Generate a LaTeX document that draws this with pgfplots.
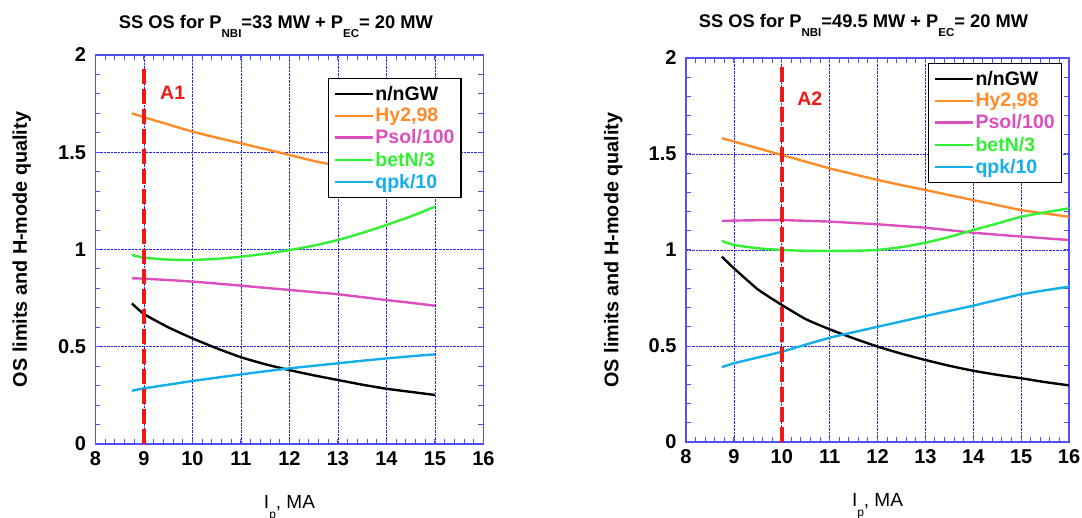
\documentclass[border=0pt]{standalone}
\usepackage{pgfplots}
\pgfplotsset{compat=1.18}
\usepackage{fontspec}
\setmainfont{Liberation Sans}
\definecolor{axblue}{RGB}{80,80,245}
\definecolor{gridblue}{RGB}{40,40,230}
\definecolor{corange}{RGB}{255,140,40}
\definecolor{cmagenta}{RGB}{220,80,190}
\definecolor{cgreen}{RGB}{50,240,50}
\definecolor{ccyan}{RGB}{20,175,235}
\definecolor{cred}{RGB}{240,25,25}
\pgfplotsset{
  myax/.style={
    scale only axis,
    clip mode=individual,
    xmin=8, xmax=16, ymin=0, ymax=2,
    xtick={8,...,16}, ytick={0,0.5,1,1.5,2},
    minor x tick num=4, minor y tick num=4,
    tick align=inside,
    xtick pos=both, ytick pos=both,
    axis line style={axblue, line width=1.6pt},
    tick style={axblue, line width=1pt},
    major tick length=5pt, minor tick length=5pt,
    grid=major,
    grid style={gridblue, densely dotted, line width=0.7pt},
    /pgf/number format/assume math mode=true,
    ticklabel style={font=\fontsize{20}{20}\selectfont\bfseries},
    xticklabel style={yshift=-4pt},
    yticklabel style={xshift=-6pt},
    ylabel={OS limits and H-mode quality},
    ylabel style={font=\fontsize{19.8}{20}\selectfont\bfseries, at={(axis description cs:-0.19,0.5)}, anchor=center},
    xlabel={I\raisebox{-10pt}{\fontsize{12}{12}\selectfont p}, MA},
    xlabel style={font=\fontsize{19}{19}\selectfont, at={(axis description cs:0.5,0)}, anchor=base, yshift=-64pt},
    legend cell align=left,
    legend style={draw=black, line width=1.2pt, fill=white,
      font=\fontsize{19.5}{21}\selectfont\bfseries,
      inner xsep=5pt, inner ysep=6pt, row sep=3.5pt,
      nodes={inner sep=1.5pt}},
    legend image code/.code={\draw[#1] (0pt,0pt) -- (38pt,0pt);},
    every axis plot/.append style={line width=2.4pt, smooth, tension=0.3},
  }
}
\begin{document}
\begin{tikzpicture}
\path[use as bounding box] (0,0) rectangle (1082pt,517pt);
% Left axis
\begin{axis}[myax, at={(95.5pt,73pt)}, anchor=south west, width=388pt, height=389pt,
  legend style={at={(axis description cs:0.599,0.941)}, anchor=north west}]
\addplot[black] coordinates {(8.75,0.723)(9,0.668)(9.5,0.600)(10,0.543)(10.5,0.492)(11,0.446)(11.5,0.410)(12,0.380)(12.5,0.353)(13,0.329)(13.5,0.305)(14,0.284)(14.5,0.268)(15,0.252)};
\addlegendentry{n/nGW}
\addplot[corange] coordinates {(8.75,1.70)(9,1.68)(9.5,1.643)(10,1.606)(10.5,1.575)(11,1.546)(11.5,1.516)(12,1.486)(12.5,1.455)(13,1.43)(13.5,1.40)(14,1.375)(14.5,1.35)(15,1.325)};
\addlegendentry{\textcolor{corange}{Hy2,98}}
\addplot[cmagenta] coordinates {(8.75,0.852)(9,0.850)(9.5,0.843)(10,0.835)(10.5,0.825)(11,0.814)(11.5,0.803)(12,0.792)(12.5,0.781)(13,0.770)(13.5,0.755)(14,0.740)(14.5,0.726)(15,0.711)};
\addlegendentry{\textcolor{cmagenta}{Psol/100}}
\addplot[cgreen] coordinates {(8.75,0.972)(9,0.958)(9.5,0.948)(10,0.946)(10.5,0.952)(11,0.963)(11.5,0.978)(12,0.997)(12.5,1.02)(13,1.049)(13.5,1.085)(14,1.126)(14.5,1.17)(15,1.22)};
\addlegendentry{\textcolor{cgreen}{betN/3}}
\addplot[ccyan] coordinates {(8.75,0.274)(9,0.286)(9.5,0.305)(10,0.324)(10.5,0.341)(11,0.358)(11.5,0.374)(12,0.389)(12.5,0.402)(13,0.415)(13.5,0.428)(14,0.440)(14.5,0.451)(15,0.461)};
\addlegendentry{\textcolor{ccyan}{qpk/10}}
\addplot[cred, line width=4pt, dash pattern=on 15pt off 5pt, sharp plot, forget plot] coordinates {(9,0)(9,1.94)};
\node[anchor=west, text=cred, font=\fontsize{19.5}{19}\selectfont\bfseries, inner sep=0pt] at (axis cs:9.33,1.805) {A1};
\node[anchor=base, font=\fontsize{18.3}{18}\selectfont\bfseries, inner sep=0pt] at (axis description cs:0.465,1.067) {SS OS for P\raisebox{-9pt}{\fontsize{11.5}{12}\selectfont NBI}=33 MW + P\raisebox{-9pt}{\fontsize{11.5}{12}\selectfont EC}= 20 MW};
\end{axis}
% Right axis
\begin{axis}[myax, at={(686pt,75pt)}, anchor=south west, width=383pt, height=384pt,
  legend style={at={(axis description cs:0.632,0.987)}, anchor=north west}]
\addplot[black] coordinates {(8.75,0.965)(9,0.905)(9.5,0.795)(10,0.714)(10.5,0.64)(11,0.587)(11.5,0.54)(12,0.497)(12.5,0.46)(13,0.427)(13.5,0.397)(14,0.371)(14.5,0.35)(15,0.332)(15.5,0.312)(16,0.295)};
\addlegendentry{n/nGW}
\addplot[corange] coordinates {(8.75,1.582)(9,1.565)(9.5,1.53)(10,1.495)(10.5,1.46)(11,1.425)(11.5,1.395)(12,1.365)(12.5,1.338)(13,1.3125)(13.5,1.286)(14,1.26)(14.5,1.234)(15,1.208)(15.5,1.19)(16,1.173)};
\addlegendentry{\textcolor{corange}{Hy2,98}}
\addplot[cmagenta] coordinates {(8.75,1.151)(9,1.153)(9.5,1.155)(10,1.156)(10.5,1.152)(11,1.148)(11.5,1.141)(12,1.134)(12.5,1.125)(13,1.116)(13.5,1.103)(14,1.09)(14.5,1.08)(15,1.07)(15.5,1.061)(16,1.052)};
\addlegendentry{\textcolor{cmagenta}{Psol/100}}
\addplot[cgreen] coordinates {(8.75,1.047)(9,1.026)(9.5,1.009)(10,1.0)(10.5,0.996)(11,0.995)(11.5,0.996)(12,1.0)(12.5,1.015)(13,1.038)(13.5,1.068)(14,1.104)(14.5,1.138)(15,1.173)(15.5,1.196)(16,1.217)};
\addlegendentry{\textcolor{cgreen}{betN/3}}
\addplot[ccyan] coordinates {(8.75,0.39)(9,0.41)(9.5,0.44)(10,0.47)(10.5,0.507)(11,0.543)(11.5,0.572)(12,0.6)(12.5,0.628)(13,0.656)(13.5,0.683)(14,0.71)(14.5,0.74)(15,0.769)(15.5,0.79)(16,0.809)};
\addlegendentry{\textcolor{ccyan}{qpk/10}}
\addplot[cred, line width=4pt, dash pattern=on 15pt off 5pt, sharp plot, forget plot] coordinates {(10,0)(10,1.96)};
\node[anchor=west, text=cred, font=\fontsize{19.5}{19}\selectfont\bfseries, inner sep=0pt] at (axis cs:10.32,1.786) {A2};
\node[anchor=base, font=\fontsize{18.3}{18}\selectfont\bfseries, inner sep=0pt] at (axis description cs:0.4635,1.08) {SS OS for P\raisebox{-9pt}{\fontsize{11.5}{12}\selectfont NBI}=49.5 MW + P\raisebox{-9pt}{\fontsize{11.5}{12}\selectfont EC}= 20 MW};
\end{axis}
\end{tikzpicture}
\end{document}
